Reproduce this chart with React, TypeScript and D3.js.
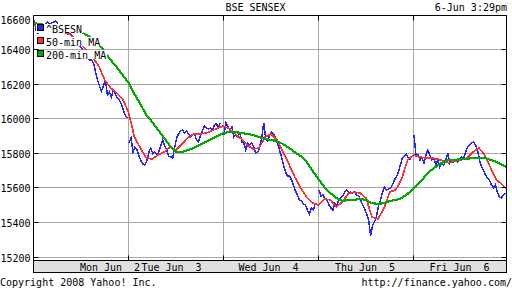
import React from "react";
import * as d3 from "d3";

// ---- data ----
const title = "BSE SENSEX";
const stamp = "6-Jun 3:29pm";
const dayLabels = ["Mon Jun  2", "Tue Jun  3", "Wed Jun  4", "Thu Jun  5", "Fri Jun  6"];
const yTicks = [15200, 15400, 15600, 15800, 16000, 16200, 16400, 16600];
const seriesNames = ["^BSESN", "50-min MA", "200-min MA"];

// ^BSESN, one reading every 7 minutes of each 335-minute session
const bsesnMon = [16571, 16513, 16496, 16525, 16536, 16542, 16548, 16559, 16542, 16554, 16559, 16565, 16548, 16531, 16513, 16502, 16496, 16490, 16496, 16479, 16455, 16438, 16427, 16421, 16409, 16386, 16363, 16351, 16340, 16340, 16322, 16270, 16224, 16189, 16160, 16189, 16224, 16137, 16155, 16126, 16166, 16143, 16120, 16108, 16085, 16050, 16021, 16004];
const bsesnTue = [15860, 15889, 15807, 15836, 15819, 15784, 15756, 15738, 15732, 15756, 15807, 15831, 15796, 15807, 15790, 15807, 15842, 15877, 15842, 15819, 15784, 15779, 15773, 15831, 15889, 15912, 15929, 15935, 15917, 15929, 15912, 15894, 15906, 15912, 15877, 15865, 15906, 15929, 15958, 15946, 15941, 15946, 15935, 15964, 15970, 15952, 15975];
const bsesnWed = [15906, 15975, 15952, 15935, 15952, 15894, 15906, 15894, 15917, 15865, 15860, 15819, 15860, 15848, 15860, 15836, 15802, 15807, 15836, 15889, 15975, 15889, 15871, 15906, 15923, 15912, 15889, 15854, 15819, 15779, 15732, 15692, 15669, 15669, 15646, 15617, 15582, 15559, 15530, 15524, 15507, 15501, 15472, 15449, 15484, 15472, 15512];
const bsesnThu = [15588, 15553, 15559, 15536, 15530, 15501, 15484, 15472, 15512, 15501, 15530, 15541, 15553, 15576, 15588, 15570, 15576, 15570, 15576, 15559, 15553, 15530, 15501, 15478, 15449, 15414, 15322, 15385, 15403, 15437, 15495, 15530, 15576, 15605, 15588, 15594, 15599, 15617, 15646, 15663, 15692, 15732, 15773, 15784, 15796, 15773, 15761];
const bsesnFri = [15906, 15790, 15790, 15761, 15773, 15744, 15790, 15819, 15790, 15761, 15773, 15732, 15761, 15721, 15744, 15732, 15761, 15802, 15744, 15761, 15750, 15761, 15750, 15761, 15779, 15773, 15807, 15836, 15848, 15860, 15865, 15848, 15819, 15761, 15721, 15703, 15675, 15657, 15646, 15617, 15599, 15617, 15576, 15547, 15541, 15559, 15570];

// moving averages, 16 readings per session (Mon..Fri), plus the close
const ma50 = [
  16542, 16536, 16531, 16525, 16513, 16502, 16490, 16467, 16432, 16392, 16351, 16305, 16224, 16178, 16149, 16114,
  16039, 15894, 15831, 15773, 15767, 15790, 15807, 15836, 15819, 15854, 15889, 15912, 15912, 15917, 15929, 15946,
  15958, 15941, 15912, 15883, 15848, 15825, 15831, 15894, 15912, 15877, 15807, 15738, 15663, 15599, 15547, 15512,
  15501, 15536, 15530, 15489, 15518, 15565, 15576, 15570, 15541, 15432, 15420, 15478, 15576, 15588, 15651, 15761,
  15790, 15779, 15773, 15773, 15767, 15756, 15744, 15756, 15761, 15773, 15807, 15831, 15790, 15715, 15646, 15617, 15582,
];
const ma200 = [
  16554, 16548, 16542, 16536, 16531, 16525, 16519, 16513, 16502, 16484, 16461, 16432, 16386, 16340, 16299, 16253,
  16207, 16143, 16085, 16021, 15981, 15935, 15889, 15842, 15807, 15807, 15819, 15831, 15848, 15865, 15883, 15900,
  15917, 15923, 15923, 15917, 15912, 15906, 15894, 15883, 15877, 15871, 15854, 15831, 15807, 15784, 15750, 15698,
  15651, 15605, 15570, 15541, 15524, 15530, 15530, 15536, 15530, 15512, 15507, 15512, 15524, 15530, 15541, 15565,
  15594, 15628, 15669, 15703, 15727, 15750, 15761, 15761, 15767, 15767, 15773, 15773, 15773, 15761, 15750, 15732, 15715,
];

const bsesnDays = [bsesnMon, bsesnTue, bsesnWed, bsesnThu, bsesnFri];

const SESSION_MIN = 335;
const SAMPLE_MIN = 7;
const MA_PER_DAY = 16;

const BLUE = "#2424ff";
const RED = "#ff3030";
const GREEN = "#00aa00";
const GRID = "#a8a8a8";
const FONT = "'DejaVu Sans Mono', monospace";

export default function App() {
  const left = 33.5;
  const right = 506.5;
  const top = 15.5;
  const bottom = 260.5;

  const x = d3.scaleLinear().domain([0, 5]).range([33.5, 508.5]);
  const y = d3.scaleLinear().domain([15200, 16600]).range([257, 15]);

  const dayLine = (d: number) =>
    d3
      .line<number>()
      .x((_, i) => x(d + (i * SAMPLE_MIN + SAMPLE_MIN / 4) / SESSION_MIN))
      .y((v) => y(v));
  const maLine = d3
    .line<number>()
    .x((_, i) => x(i / MA_PER_DAY))
    .y((v) => y(v));

  const labelShift = [29, -4.5, -2.5, -1, -1.5];
  const crisp = (v: number) => Math.floor(v) + 0.5;

  const legendY = [32.5, 45.5, 58.5];
  const legendColors = [BLUE, RED, GREEN];

  return (
    <svg
      width={512}
      height={288}
      style={{ position: "absolute", left: 0, top: 0, display: "block", background: "#fff" }}
      fontFamily={FONT}
      fontSize={10}
    >
      <defs>
        <clipPath id="plot">
          <rect x={34} y={15} width={right - 34} height={bottom - 15} />
        </clipPath>
      </defs>
      <rect x={0} y={0} width={512} height={288} fill="#fff" />

      {/* title */}
      <text x={255.5} y={10.5} textAnchor="middle" style={{ whiteSpace: "pre" }}>{title}</text>
      <text x={507} y={10.5} textAnchor="end" style={{ whiteSpace: "pre" }}>{stamp}</text>

      {/* grid */}
      {yTicks.map((t) => (
        <line key={"g" + t} x1={left} x2={right} y1={crisp(y(t))} y2={crisp(y(t))} stroke={GRID} strokeWidth={1} />
      ))}
      {[1, 2, 3, 4].map((d) => (
        <line key={"v" + d} x1={x(d)} x2={x(d)} y1={top} y2={bottom} stroke={GRID} strokeWidth={1} />
      ))}

      {/* series */}
      <g clipPath="url(#plot)">
        {bsesnDays.map((arr, d) => (
          <path key={"b" + d} d={dayLine(d)(arr) || ""} fill="none" stroke={BLUE} strokeWidth={1.5} shapeRendering="crispEdges" />
        ))}
        <path d={maLine(ma50) || ""} fill="none" stroke={RED} strokeWidth={1.7} shapeRendering="crispEdges" />
        <path d={maLine(ma200) || ""} fill="none" stroke={GREEN} strokeWidth={2.2} shapeRendering="crispEdges" />
      </g>

      {/* frame */}
      <line x1={left} x2={left} y1={top} y2={273} stroke="#000" />
      <line x1={left} x2={right} y1={top} y2={top} stroke="#000" />
      <line x1={right} x2={right} y1={top} y2={bottom} stroke="#000" />
      {yTicks.map((t) => (
        <g key={"t" + t}>
          <line x1={left} x2={left + 5} y1={crisp(y(t))} y2={crisp(y(t))} stroke="#000" />
          <line x1={right - 5} x2={right} y1={crisp(y(t))} y2={crisp(y(t))} stroke="#000" />
          <text x={30.5} y={Math.max(crisp(y(t)) + 4, 23.5)} textAnchor="end">{t}</text>
        </g>
      ))}
      {[1, 2, 3, 4].map((d) => (
        <g key={"vt" + d}>
          <line x1={x(d)} x2={x(d)} y1={top} y2={top + 5} stroke="#000" />
          <line x1={x(d)} x2={x(d)} y1={bottom - 5} y2={bottom} stroke="#000" />
        </g>
      ))}

      {/* x band */}
      <rect x={left} y={bottom} width={right - left} height={12} fill="#e0e0e0" stroke="#000" />
      {dayLabels.map((l, d) => (
        <text key={l} x={x(d + 0.5) + labelShift[d]} y={271} textAnchor="middle" style={{ whiteSpace: "pre" }}>
          {l}
        </text>
      ))}

      {/* legend */}
      {seriesNames.map((n, i) => (
        <g key={n}>
          <rect x={36} y={legendY[i] - 8.5} width={10 + n.length * 6.02 + 1} height={9} fill="#fff" />
          <rect x={37.5} y={legendY[i] - 8} width={6} height={6} fill={legendColors[i]} stroke="#000" />
          <text x={46} y={legendY[i]} style={{ whiteSpace: "pre" }}>{n}</text>
        </g>
      ))}

      {/* footer */}
      <text x={0} y={285.5} style={{ whiteSpace: "pre" }}>Copyright 2008 Yahoo! Inc.</text>
      <text x={512} y={285.5} textAnchor="end" style={{ whiteSpace: "pre" }}>http://finance.yahoo.com/</text>
    </svg>
  );
}
